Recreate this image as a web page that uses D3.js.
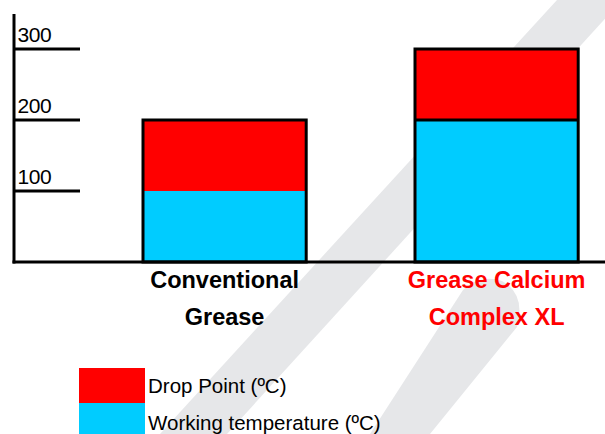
<!DOCTYPE html>
<html>
<head>
<meta charset="utf-8">
<script src="https://cdn.jsdelivr.net/npm/d3@7/dist/d3.min.js"></script>
<style>
  html, body { margin: 0; padding: 0; background: #ffffff; }
  svg { display: block; font-family: "Liberation Sans", Arial, sans-serif; }
</style>
</head>
<body>
<svg id="chart" width="605" height="434"></svg>
<script>
// ---- data ----
const categories = ["Conventional Grease", "Grease Calcium Complex XL"];
const categoryLines = [["Conventional", "Grease"], ["Grease Calcium", "Complex XL"]];
const workingTemperature = [100, 200];   // ºC
const dropPoint = [200, 300];            // ºC
const tickValues = [100, 200, 300];
const seriesNames = ["Drop Point (ºC)", "Working temperature (ºC)"];

// ---- styles ----
const RED = "#ff0000", BLUE = "#00ccff";
const labelColors = ["#000000", "#ff0000"];

const svg = d3.select("#chart");

// background watermark
const wm = svg.append("g").attr("fill", "#e6e7e9");
wm.append("path").attr("d", "M557,0 L622,0 L227,434 L160,434 Z");
wm.append("path").attr("d", "M370,434 L463,290 Q480,274 502,281 Q526,294 517,327 L430,434 Z");

const x = d3.scaleBand().domain(categories).range([88.6, 632.6]).paddingInner(0.4).paddingOuter(0.2);
const y = d3.scaleLinear().domain([0, 300]).range([262, 49]);

// bars: red full drop point, blue working temperature on top
const bars = svg.append("g");
bars.selectAll("rect.drop").data(categories).join("rect")
  .attr("class", "drop")
  .attr("x", d => x(d)).attr("width", x.bandwidth())
  .attr("y", (d, i) => y(dropPoint[i])).attr("height", (d, i) => y(0) - y(dropPoint[i]))
  .attr("fill", RED);
bars.selectAll("rect.work").data(categories).join("rect")
  .attr("class", "work")
  .attr("x", d => x(d)).attr("width", x.bandwidth())
  .attr("y", (d, i) => y(workingTemperature[i])).attr("height", (d, i) => y(0) - y(workingTemperature[i]))
  .attr("fill", BLUE);
// divider line on second bar
bars.selectAll("line.div").data(categories.slice(1)).join("line")
  .attr("class", "div")
  .attr("x1", d => x(d)).attr("x2", d => x(d) + x.bandwidth())
  .attr("y1", y(workingTemperature[1])).attr("y2", y(workingTemperature[1]))
  .attr("stroke", "#000").attr("stroke-width", 3);
// outlines
bars.selectAll("rect.outline").data(categories).join("rect")
  .attr("class", "outline")
  .attr("x", d => x(d)).attr("width", x.bandwidth())
  .attr("y", (d, i) => y(dropPoint[i])).attr("height", (d, i) => y(0) - y(dropPoint[i]))
  .attr("fill", "none").attr("stroke", "#000").attr("stroke-width", 3);

// y ticks: lines to the right of axis, labels above
const ticks = svg.append("g");
ticks.selectAll("line").data(tickValues).join("line")
  .attr("x1", 14).attr("x2", 80)
  .attr("y1", d => y(d)).attr("y2", d => y(d))
  .attr("stroke", "#000").attr("stroke-width", 3);
ticks.selectAll("text").data(tickValues).join("text")
  .attr("x", 17.5).attr("y", d => y(d) - 7.5)
  .attr("font-size", 21).attr("letter-spacing", -0.4).attr("fill", "#000")
  .text(d => d3.format("d")(d));

// axes
svg.append("line").attr("x1", 14).attr("x2", 14).attr("y1", 14).attr("y2", y(0) + 1.5)
  .attr("stroke", "#000").attr("stroke-width", 3);
svg.append("line").attr("x1", 12.5).attr("x2", 605).attr("y1", y(0)).attr("y2", y(0))
  .attr("stroke", "#000").attr("stroke-width", 3);

// category labels
const cl = svg.append("g").attr("text-anchor", "middle").attr("font-weight", "bold").attr("font-size", 23.5);
categories.forEach((c, i) => {
  const t = cl.append("text").attr("fill", labelColors[i]);
  categoryLines[i].forEach((ln, j) => {
    t.append("tspan").attr("x", x(c) + x.bandwidth() / 2).attr("y", 288 + j * 37).text(ln);
  });
});

// legend
const legendColors = [RED, BLUE];
const lg = svg.append("g");
lg.selectAll("rect").data(seriesNames).join("rect")
  .attr("x", 79).attr("y", (d, i) => 368 + i * 35).attr("width", 66).attr("height", 35)
  .attr("fill", (d, i) => legendColors[i]);
lg.selectAll("text").data(seriesNames).join("text")
  .attr("x", 148).attr("y", (d, i) => 393 + i * 37)
  .attr("font-size", 20.5).attr("fill", "#000")
  .text(d => d);
</script>
</body>
</html>
